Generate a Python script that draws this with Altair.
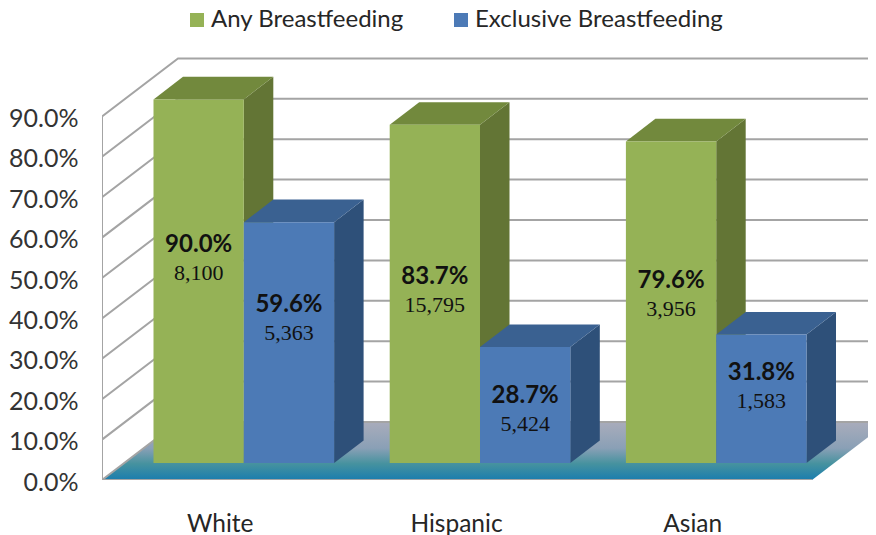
import altair as alt
import pandas as pd

groups = ["White", "Hispanic", "Asian"]
series = ["Any Breastfeeding", "Exclusive Breastfeeding"]
any_values = [90.0, 83.7, 79.6]
exclusive_values = [59.6, 28.7, 31.8]
any_counts = ["8,100", "15,795", "3,956"]
exclusive_counts = ["5,363", "5,424", "1,583"]
ticks = [0, 10, 20, 30, 40, 50, 60, 70, 80, 90]

# layout, in scale units
PX = 4.04
W, H = 766, 472
FIRST, STEP, BAR = 51.5, 236.2, 90.3
BASE = 17 / PX
BAR_DX, BAR_DY = 29.5, 22.6 / PX
WALL_DX, WALL_DY = 76, 58 / PX
FLOOR_LEN = 710
any_label_y = [58.2, 50.2, 49.3]
exclusive_label_y = [43.3, 20.8, 26.5]
COUNT_GAP = 6.9
FRONT = ["#95B256", "#4C7AB6"]
SIDE = ["#637535", "#2E5079"]
TOP = ["#72893D", "#3A6191"]
GRID = "#A4A4A4"
TEXT = "#262626"
FONT = "Lato"

x_scale = alt.Scale(domain=[0, W], nice=False, zero=False)
y_scale = alt.Scale(domain=[0, H / PX], nice=False, zero=False)

tick_positions = [FIRST + g * STEP + BAR - 24 for g in range(3)]
label_expr = " : ".join(
    f"datum.value == {p} ? '{n}'" for p, n in zip(tick_positions, groups)
) + " : ''"
x_axis = alt.Axis(
    title=None, values=tick_positions, labelExpr=label_expr, domain=False, ticks=False,
    grid=False, labelFont=FONT, labelFontSize=24.5, labelColor=TEXT, labelPadding=44,
    labelBaseline="middle", labelFlush=False, labelOverlap=False)
y_axis = alt.Axis(
    title=None, values=ticks, labelExpr="format(datum.value, '.1f') + '%'",
    domain=False, ticks=False, grid=False, labelFont=FONT, labelFontSize=25,
    labelColor="#333333", labelPadding=24, labelOffset=2, labelOverlap=False)
X = alt.X("x:Q", scale=x_scale, axis=x_axis)
Y = alt.Y("y:Q", scale=y_scale, axis=y_axis)

# floor
floor = pd.DataFrame({
    "x": [0, WALL_DX, FLOOR_LEN, FLOOR_LEN + WALL_DX],
    "y": [0, WALL_DY, WALL_DY, WALL_DY],
    "y2": [0, 0, 0, WALL_DY],
})
floor_layer = alt.Chart(floor).mark_area(
    clip=True,
    color=alt.Gradient(
        gradient="linear", x1=0, x2=0, y1=0, y2=1,
        stops=[
            alt.GradientStop(offset=0, color="#A9ACBB"),
            alt.GradientStop(offset=0.45, color="#8AA0B6"),
            alt.GradientStop(offset=0.72, color="#46929F"),
            alt.GradientStop(offset=1, color="#1A7DAE"),
        ],
    ),
).encode(x=X, y=Y, y2="y2:Q")

# walls
grid_rows = []
for t in ticks:
    grid_rows += [
        {"id": t, "x": 0, "y": t},
        {"id": t, "x": WALL_DX, "y": t + WALL_DY},
        {"id": t, "x": W + 20, "y": t + WALL_DY},
    ]
grid_rows += [{"id": "edge", "x": 0, "y": 0}, {"id": "edge", "x": 0, "y": 90}]
grid_rows += [{"id": "front", "x": 0, "y": 0}, {"id": "front", "x": FLOOR_LEN, "y": 0}]
grid_layer = alt.Chart(pd.DataFrame(grid_rows)).mark_line(
    clip=True, color=GRID, strokeWidth=2
).encode(x=X, y=Y, detail="id:N", order=alt.Order("x:Q"))

# bars
layers = [floor_layer, grid_layer]
all_values = [any_values, exclusive_values]
for s, name in enumerate(series):
    side_rows, top_rows, front_rows = [], [], []
    for g, v in enumerate(all_values[s]):
        xl = FIRST + g * STEP + s * BAR
        xr = xl + BAR
        h = BASE + v
        side_rows += [
            {"id": g, "x": xr, "y": h, "y2": BASE},
            {"id": g, "x": xr + BAR_DX, "y": h + BAR_DY, "y2": BASE + BAR_DY},
        ]
        top_rows += [
            {"id": g, "x": xl, "y": h, "y2": h},
            {"id": g, "x": xl + BAR_DX, "y": h + BAR_DY, "y2": h},
            {"id": g, "x": xr, "y": h + BAR_DY, "y2": h},
            {"id": g, "x": xr + BAR_DX, "y": h + BAR_DY, "y2": h + BAR_DY},
        ]
        front_rows.append({"x": xl, "x2": xr, "y": h, "y2": BASE, "series": name})
    layers.append(alt.Chart(pd.DataFrame(side_rows)).mark_area(color=SIDE[s]).encode(
        x=X, y=Y, y2="y2:Q", detail="id:N"))
    layers.append(alt.Chart(pd.DataFrame(top_rows)).mark_area(color=TOP[s]).encode(
        x=X, y=Y, y2="y2:Q", detail="id:N"))
    layers.append(alt.Chart(pd.DataFrame(front_rows)).mark_rect().encode(
        x=X, x2="x2:Q", y=Y, y2="y2:Q",
        color=alt.Color(
            "series:N",
            scale=alt.Scale(domain=series, range=FRONT),
            legend=alt.Legend(
                title=None, orient="none", legendX=83, legendY=0,
                direction="horizontal", symbolType="square", symbolSize=196,
                symbolStrokeWidth=0, labelFont=FONT, labelFontSize=24, labelColor=TEXT,
                labelLimit=320, columnPadding=45, labelOffset=2,
            ),
        ),
    ))

# labels
pct_rows, count_rows = [], []
for s, (vals, counts, ys) in enumerate(zip(all_values, [any_counts, exclusive_counts],
                                           [any_label_y, exclusive_label_y])):
    for g in range(3):
        cx = FIRST + g * STEP + s * BAR + BAR / 2
        pct_rows.append({"x": cx, "y": ys[g], "t": f"{vals[g]:.1f}%"})
        count_rows.append({"x": cx, "y": ys[g] - COUNT_GAP, "t": counts[g]})
layers.append(alt.Chart(pd.DataFrame(pct_rows)).mark_text(
    font=FONT, fontSize=24, fontWeight="bold", color="#111111", baseline="middle"
).encode(x=X, y=Y, text="t:N"))
layers.append(alt.Chart(pd.DataFrame(count_rows)).mark_text(
    font="Liberation Serif", fontSize=22, color="#111111", baseline="middle"
).encode(x=X, y=Y, text="t:N"))

chart = alt.layer(*layers).properties(
    width=W, height=H,
    autosize=alt.AutoSizeParams(type="none"),
    padding={"left": 94, "top": 0, "right": 0, "bottom": 58},
).configure_view(stroke=None)

chart.save("out.html", embed_options={"renderer": "svg", "actions": False})
